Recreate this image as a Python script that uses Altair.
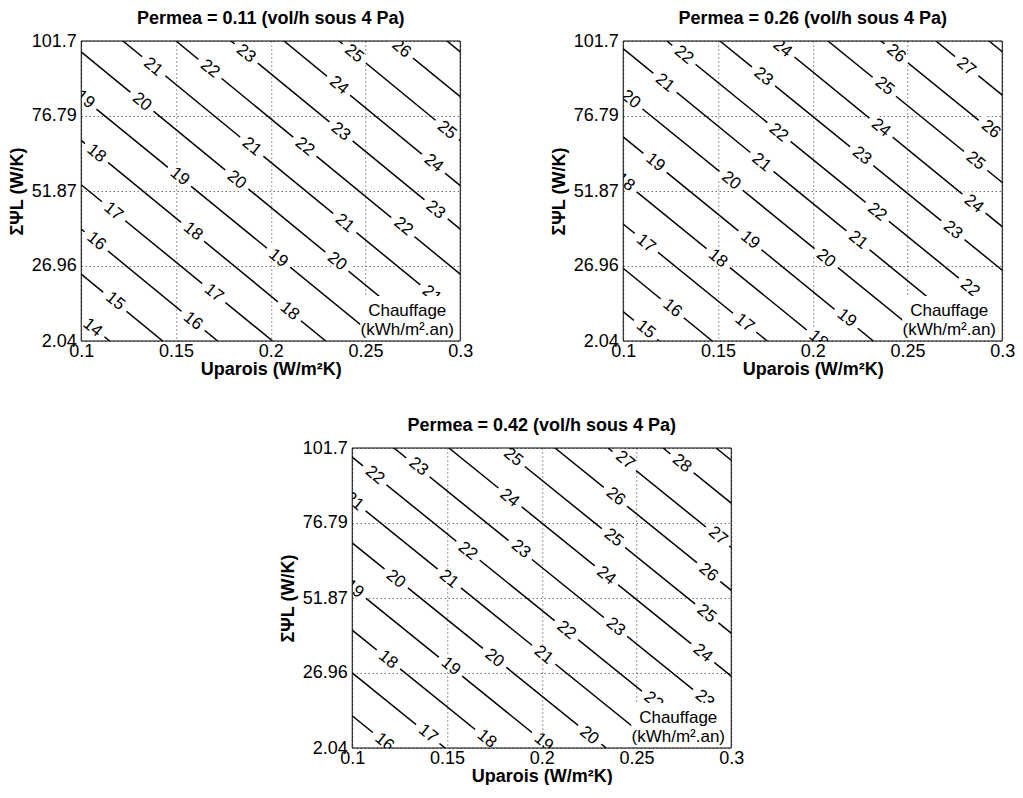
import altair as alt
import pandas as pd

FONT = "Liberation Sans"
PSI_MIN, PSI_MAX = 2.04, 101.7
U_MIN, U_MAX = 0.1, 0.3
U_TICKS = [0.1, 0.15, 0.2, 0.25, 0.3]
PSI_TICKS = [2.04, 26.96, 51.87, 76.79, 101.7]

TITLES = [
    "Permea = 0.11 (vol/h sous 4 Pa)",
    "Permea = 0.26 (vol/h sous 4 Pa)",
    "Permea = 0.42 (vol/h sous 4 Pa)",
]
X_TITLE = "Uparois (W/m²K)"
Y_TITLE = "ΣΨL (W/K)"
BOX_TEXT = ["Chauffage", "(kWh/m².an)"]

# contour lines: level, U where the line meets the top (101.7) and the bottom (2.04)
P1_LEVELS = [14, 15, 16, 17, 18, 19, 20, 21, 22, 23, 24, 25, 26, 27]
P1_U_TOP = [-0.078, -0.050, -0.021, 0.007, 0.036, 0.064, 0.093, 0.122, 0.150, 0.179, 0.207, 0.236, 0.264, 0.293]
P1_U_BOT = [0.115, 0.143, 0.172, 0.201, 0.229, 0.258, 0.286, 0.315, 0.343, 0.372, 0.400, 0.429, 0.458, 0.486]

P2_LEVELS = [15, 16, 17, 18, 19, 20, 21, 22, 23, 24, 25, 26, 27, 28]
P2_U_TOP = [-0.076, -0.047, -0.019, 0.009, 0.038, 0.066, 0.095, 0.123, 0.151, 0.180, 0.208, 0.236, 0.265, 0.293]
P2_U_BOT = [0.119, 0.147, 0.176, 0.204, 0.232, 0.261, 0.289, 0.318, 0.346, 0.374, 0.403, 0.431, 0.459, 0.488]

P3_LEVELS = [16, 17, 18, 19, 20, 21, 22, 23, 24, 25, 26, 27, 28, 29]
P3_U_TOP = [-0.075, -0.047, -0.019, 0.009, 0.038, 0.066, 0.094, 0.122, 0.151, 0.179, 0.207, 0.235, 0.264, 0.292]
P3_U_BOT = [0.121, 0.149, 0.177, 0.205, 0.234, 0.262, 0.290, 0.318, 0.347, 0.375, 0.403, 0.431, 0.460, 0.488]

# contour labels: level, U, psi
P1_LAB_LEVEL = [14, 15, 16, 16, 17, 17, 18, 18, 18, 19, 19, 19, 20, 20, 20, 21, 21, 21, 21, 22, 22, 22, 23, 23, 23, 24, 24, 25, 25, 26]
P1_LAB_U = [0.106, 0.118, 0.108, 0.159, 0.117, 0.170, 0.108, 0.159, 0.210, 0.102, 0.152, 0.204, 0.132, 0.182, 0.235,
            0.138, 0.190, 0.239, 0.285, 0.168, 0.218, 0.270, 0.187, 0.237, 0.287, 0.236, 0.286, 0.244, 0.293, 0.269]
P1_LAB_PSI = [6.5, 15.3, 35.2, 8.7, 45.1, 18.0, 64.4, 38.5, 12.0, 82.3, 56.7, 29.6, 81.5, 55.6, 28.5,
              93.1, 66.6, 41.2, 17.5, 92.5, 66.6, 40.1, 97.5, 71.6, 45.6, 87.0, 61.1, 97.5, 72.1, 99.2]

P2_LAB_LEVEL = [15, 16, 17, 17, 18, 18, 18, 19, 19, 19, 20, 20, 20, 21, 21, 21, 22, 22, 22, 22, 23, 23, 23, 24, 24, 24, 25, 25, 26, 26, 27]
P2_LAB_U = [0.112, 0.126, 0.112, 0.164, 0.101, 0.150, 0.203, 0.117, 0.167, 0.218, 0.104, 0.157, 0.207, 0.122, 0.173, 0.224,
            0.132, 0.182, 0.234, 0.283, 0.174, 0.226, 0.274, 0.184, 0.236, 0.285, 0.238, 0.286, 0.244, 0.294, 0.281]
P2_LAB_PSI = [5.9, 13.0, 34.5, 8.1, 54.8, 29.5, 2.6, 61.4, 35.6, 9.7, 82.3, 55.3, 29.5, 87.8, 61.4, 35.6,
              97.1, 71.3, 44.9, 19.6, 89.9, 63.6, 38.9, 99.3, 72.9, 47.6, 86.7, 61.9, 97.6, 72.4, 93.2]

P3_LAB_LEVEL = [16, 17, 18, 18, 19, 19, 19, 20, 20, 20, 21, 21, 21, 22, 22, 22, 22, 23, 23, 23, 23, 24, 24, 24, 25, 25, 25, 26, 26, 27, 27, 28]
P3_LAB_U = [0.117, 0.140, 0.119, 0.171, 0.101, 0.152, 0.201, 0.123, 0.175, 0.225, 0.101, 0.151, 0.201, 0.112, 0.161, 0.213, 0.259,
            0.135, 0.189, 0.239, 0.286, 0.183, 0.234, 0.285, 0.185, 0.238, 0.287, 0.239, 0.288, 0.244, 0.293, 0.274]
P3_LAB_PSI = [4.0, 6.8, 31.4, 5.1, 54.9, 29.2, 4.0, 58.2, 31.9, 6.2, 84.0, 58.2, 33.0, 92.7, 67.5, 41.2, 17.7,
              95.5, 68.1, 42.3, 18.3, 85.1, 59.3, 33.6, 98.7, 71.9, 46.7, 85.6, 60.4, 97.7, 72.5, 96.6]

PANELS = [
    (P1_LEVELS, P1_U_TOP, P1_U_BOT, P1_LAB_LEVEL, P1_LAB_U, P1_LAB_PSI),
    (P2_LEVELS, P2_U_TOP, P2_U_BOT, P2_LAB_LEVEL, P2_LAB_U, P2_LAB_PSI),
    (P3_LEVELS, P3_U_TOP, P3_U_BOT, P3_LAB_LEVEL, P3_LAB_U, P3_LAB_PSI),
]

W, H = 379, 300
ANGLE = 39
MASK = "M-1,-0.42L1,-0.42L1,0.42L-1,0.42Z"

x_enc = alt.X(
    "u:Q",
    scale=alt.Scale(domain=[U_MIN, U_MAX], nice=False, zero=False),
    axis=alt.Axis(values=U_TICKS, format=".4~g", title=X_TITLE, grid=True, gridDash=[1, 3],
                  gridColor="#333", gridWidth=1, domain=False, ticks=False, labelPadding=1,
                  labelFlush=False, labelFontSize=18, titleFontSize=18, titleFontWeight="bold",
                  titlePadding=0, labelColor="black", titleColor="black"),
)
y_enc = alt.Y(
    "psi:Q",
    scale=alt.Scale(domain=[PSI_MIN, PSI_MAX], nice=False, zero=False),
    axis=alt.Axis(values=PSI_TICKS, format=".4~g", title=Y_TITLE, grid=True, gridDash=[1, 3],
                  gridColor="#333", gridWidth=1, domain=False, ticks=False, labelPadding=5,
                  labelFlush=False, labelFontSize=18, titleFontSize=18, titleFontWeight="bold",
                  titlePadding=5, labelColor="black", titleColor="black"),
)


def panel(i, extra_left=0):
    levels, utop, ubot, llev, lu, lpsi = PANELS[i]
    rows = []
    for lv, a, b in zip(levels, utop, ubot):
        rows.append({"level": lv, "u": a, "psi": PSI_MAX, "k": 0})
        rows.append({"level": lv, "u": b, "psi": PSI_MIN, "k": 1})
    lines_df = pd.DataFrame(rows)
    lab_df = pd.DataFrame({"level": llev, "u": lu, "psi": lpsi})

    lines = alt.Chart(lines_df).mark_line(color="black", strokeWidth=1.5, clip=True).encode(
        x=x_enc, y=y_enc, detail="level:N", order="k:Q")
    masks = alt.Chart(lab_df).mark_point(shape=MASK, size=900, filled=True, color="white", opacity=1,
                                         angle=ANGLE, clip=True, strokeWidth=0).encode(x=x_enc, y=y_enc)
    texts = alt.Chart(lab_df).mark_text(angle=ANGLE, fontSize=17, font=FONT, color="black", align="center",
                                        baseline="middle", clip=True).encode(x=x_enc, y=y_enc, text="level:N")
    one = pd.DataFrame({"a": [0]})
    box = alt.Chart(one).mark_rect(fill="white", stroke=None).encode(
        x=alt.value(279), x2=alt.value(W), y=alt.value(H - 45), y2=alt.value(H))
    box_text = alt.Chart(one).mark_text(text=BOX_TEXT, fontSize=17, font=FONT, color="black", align="center",
                                        baseline="middle", lineHeight=19).encode(
        x=alt.value(326), y=alt.value(H - 30))
    frame = alt.Chart(one).mark_rect(fillOpacity=0, stroke="black", strokeWidth=1).encode(
        x=alt.value(0), x2=alt.value(W), y=alt.value(0), y2=alt.value(H))
    layers = [lines, masks, texts, box, box_text, frame]
    if extra_left:
        spacer = alt.Chart(one).mark_rect(fill="white", stroke=None, opacity=1).encode(
            x=alt.value(-extra_left), x2=alt.value(-extra_left + 2), y=alt.value(H / 2), y2=alt.value(H / 2 + 2))
        layers.append(spacer)
    return alt.layer(*layers).properties(
        width=W, height=H,
        title=alt.TitleParams(TITLES[i], fontSize=18, fontWeight="bold", font=FONT, offset=4,
                              anchor="middle", frame="group", color="black"),
    )


top = alt.hconcat(panel(0), panel(1), spacing=76)
chart = alt.vconcat(top, panel(2, extra_left=84), spacing=39, center=True).properties(
    padding={"left": 0, "right": 0, "top": 2, "bottom": 0}
).configure_view(stroke=None).configure_axis(labelFont=FONT, titleFont=FONT).configure_title(font=FONT)

chart.save("out.html", embed_options={"renderer": "svg", "actions": False})
